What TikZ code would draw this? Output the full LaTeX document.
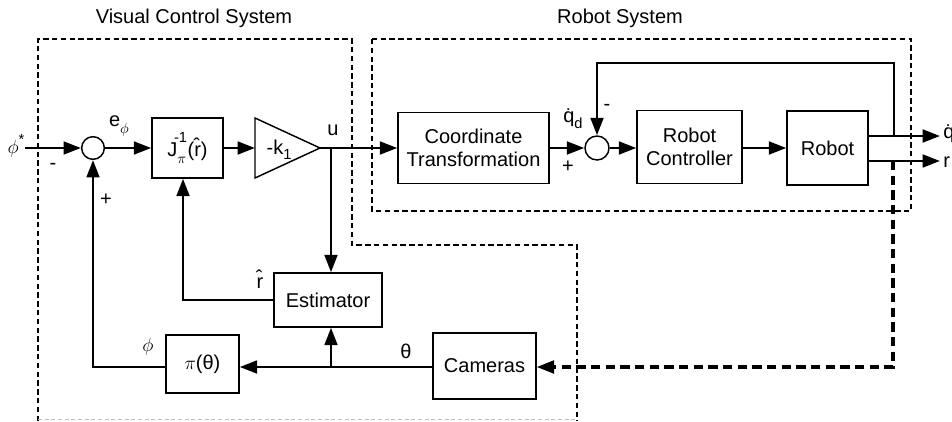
\documentclass[tikz,border=0pt]{standalone}
\usepackage{fontspec}
\setmainfont{Liberation Sans}
\usetikzlibrary{arrows.meta}
\newcommand\smallsz{\fontsize{11}{12}\selectfont}
\begin{document}
\begin{tikzpicture}[x=0.75pt,y=-0.75pt,
  font=\fontsize{15}{17.5}\selectfont,
  blk/.style={draw, line width=1.1pt, align=center, inner sep=0pt},
  summer/.style={draw, circle, line width=1.1pt, minimum size=17pt, inner sep=0pt},
  sig/.style={line width=2pt},
  tip/.style={-{Triangle[length=13pt,width=9.5pt]}},
  arr/.style={sig, tip},
  zone/.style={line width=0.9pt, dash pattern=on 4pt off 2.6pt},
  link/.style={line width=2.4pt, dash pattern=on 7pt off 4pt, tip},
  lbl/.style={inner sep=0pt}]
\useasboundingbox (0,0) rectangle (952,421);
\clip (0,0) rectangle (952,421);

% subsystem frames
\draw[zone] (38,421) -- (38,39) -- (352,39) -- (352,245) -- (577,245) -- (577,421);
\draw[line width=0.6pt, gray!50, dash pattern=on 3pt off 2pt] (38,419) -- (577,419);
\draw[zone] (372,39) rectangle (911,211);
\node[lbl] (vcs) at (194,18) {Visual Control System};
\node[lbl] (rsys) at (620,18) {Robot System};

% blocks
\node[summer] (s1) at (93,148) {};
\node[blk, minimum width=53.25pt, minimum height=45pt] (jac) at (187.5,148)
  {J\makebox[0pt][l]{\kern-2.5pt\raisebox{1.35ex}{\smallsz -1}}\raisebox{-0.7ex}{\smallsz$\pi$}\kern1pt(\^{r})};
\draw[line width=1.1pt] (255,118) -- (320,148) -- (255,178) -- cycle;
\coordinate (gin) at (255,148);
\coordinate (gout) at (320,148);
\node[lbl] (gain) at (279,150) {-k\raisebox{-0.5ex}{\smallsz 1}};
\coordinate (uj) at (331,148);
\node[blk, minimum width=113.25pt, minimum height=53.25pt] (ct) at (473.5,148)
  {Coordinate\\Transformation};
\node[summer, minimum size=18pt] (s2) at (597,148) {};
\node[blk, minimum width=78.75pt, minimum height=54.75pt] (rc) at (689.5,147)
  {Robot\\Controller};
\node[blk, minimum width=60.75pt, minimum height=55.5pt] (rob) at (827.5,148) {Robot};
\node[blk, minimum width=81pt, minimum height=40.5pt] (est) at (328,300) {Estimator};
\node[blk, minimum width=54.75pt, minimum height=43.5pt] (pi) at (202.5,364)
  {$\pi$(θ)};
\node[blk, minimum width=77.25pt, minimum height=49.5pt] (cam) at (484.5,366) {Cameras};

% forward path
\coordinate (in) at (25,148);
\draw[arr] (in) -- (s1.west);
\draw[arr] (s1.east) -- (jac.west);
\draw[arr] (jac.east) -- (gin);
\draw[arr] (gout) -- (ct.west);
\draw[arr] (uj) -- (uj |- est.north);
\draw[arr] (ct.east) -- (s2.west);
\draw[arr] (s2.east) -- (rc.west |- s2.east);
\draw[arr] (rc.east |- rob.west) -- (rob.west);

% robot outputs and inner loop
\coordinate (o1) at (rob.east |- 0,136);
\coordinate (o2) at (rob.east |- 0,161);
\coordinate (e1) at (940,136);
\coordinate (e2) at (940,161);
\draw[arr] (o1) -- (e1);
\draw[arr] (o2) -- (e2);
\coordinate (fb) at (894,136);
\draw[arr] (fb) -- (894,63) -- (s2 |- 0,63) -- (s2.north);
\draw[link] (893,161) -- (893,367) -- (cam.east |- 0,367);

% camera measurements
\coordinate (th) at (uj |- 0,367);
\draw[arr] (cam.west |- 0,367) -- (pi.east |- 0,367);
\draw[arr] (th) -- (est.south -| th);
\draw[arr] (est.west) -- (183,300) -- (jac.south -| 183,0);
\draw[arr] (pi.west |- 0,367) -- (s1 |- 0,367) -- (s1.south);

% signal labels
\node[lbl] (lphs) at (16,146) {$\phi$\raisebox{0.9ex}{\smallsz*}};
\node[lbl] (lm1) at (53,166) {-};
\node[lbl] (lp1) at (106,200) {+};
\node[lbl] (le) at (119,126) {e\raisebox{-0.6ex}{\smallsz$\phi$}};
\node[lbl] (lu) at (333,130) {u};
\node[lbl] (lqd) at (573,119) {\.{q}\raisebox{-0.6ex}{\smallsz d}};
\node[lbl] (lp2) at (568,167) {+};
\node[lbl] (lm2) at (607,107) {-};
\node[lbl] (lr) at (260,279) {\^{r}};
\node[lbl] (lph) at (148,347) {$\phi$};
\node[lbl] (lth) at (406,351) {θ};
\node[lbl, anchor=west] (lq) at (943,134) {\.{q}};
\node[lbl, anchor=west] (lro) at (943,162) {r};
\end{tikzpicture}
\end{document}
